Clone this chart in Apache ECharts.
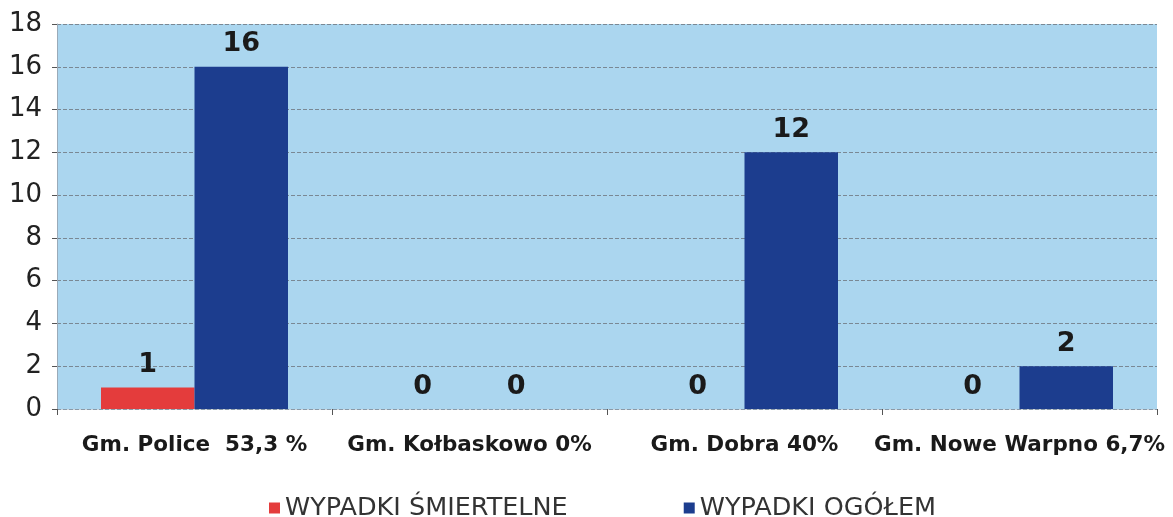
<!DOCTYPE html>
<html>
<head>
<meta charset="utf-8">
<style>
  html, body { margin: 0; padding: 0; background: #fff; }
  #chart { width: 1173px; height: 517px; }
</style>
<script src="https://cdn.jsdelivr.net/npm/echarts@6/dist/echarts.min.js"></script>
</head>
<body>
<div id="chart"></div>
<script>
const categories = ['Gm. Police  53,3 %', 'Gm. Kołbaskowo 0%', 'Gm. Dobra 40%', 'Gm. Nowe Warpno 6,7%']
const fatalData = [1, 0, 0, 0]
const totalData = [16, 0, 12, 2]
const seriesNames = ['WYPADKI ŚMIERTELNE', 'WYPADKI OGÓŁEM']

const chart = echarts.init(document.getElementById('chart'))

const barLabel = {
  show: true,
  position: 'top',
  distance: 9,
  color: '#1a1a1a',
  fontFamily: 'DejaVu Sans, sans-serif',
  fontWeight: 'bold',
  fontSize: 27
}

chart.setOption({
  animation: false,
  textStyle: { fontFamily: 'DejaVu Sans, sans-serif' },
  legend: {
    top: 490,
    left: 264,
    itemWidth: 11,
    itemHeight: 11,
    itemGap: 116,
    icon: 'rect',
    textStyle: { fontSize: 25.5, color: '#333' },
    data: seriesNames
  },
  grid: {
    left: 57,
    right: 16,
    top: 24,
    bottom: 108,
    show: true,
    backgroundColor: '#abd6ef',
    borderWidth: 0
  },
  xAxis: {
    type: 'category',
    data: categories,
    axisLine: { show: true, lineStyle: { color: '#8a9aa8', type: 'dashed' } },
    axisTick: { show: true, length: 6, lineStyle: { color: '#555' } },
    axisLabel: {
      interval: 0,
      margin: 25,
      fontSize: 21.5,
      fontWeight: 'bold',
      color: '#1a1a1a'
    }
  },
  yAxis: {
    type: 'value',
    min: 0,
    max: 18,
    interval: 2,
    axisLine: { show: true, lineStyle: { color: '#9aaab8' } },
    axisTick: { show: true, length: 5, lineStyle: { color: '#555' } },
    axisLabel: { fontSize: 26, color: '#222', margin: 15 },
    splitLine: { show: true, lineStyle: { color: '#7a8894', type: 'dashed', width: 1 } }
  },
  series: [
    {
      name: seriesNames[0],
      type: 'bar',
      data: fatalData,
      barGap: '0%',
      barCategoryGap: '32%',
      itemStyle: { color: '#e43c3c' },
      label: barLabel
    },
    {
      name: seriesNames[1],
      type: 'bar',
      data: totalData,
      itemStyle: { color: '#1c3d8e' },
      label: barLabel
    }
  ]
})
</script>
</body>
</html>
